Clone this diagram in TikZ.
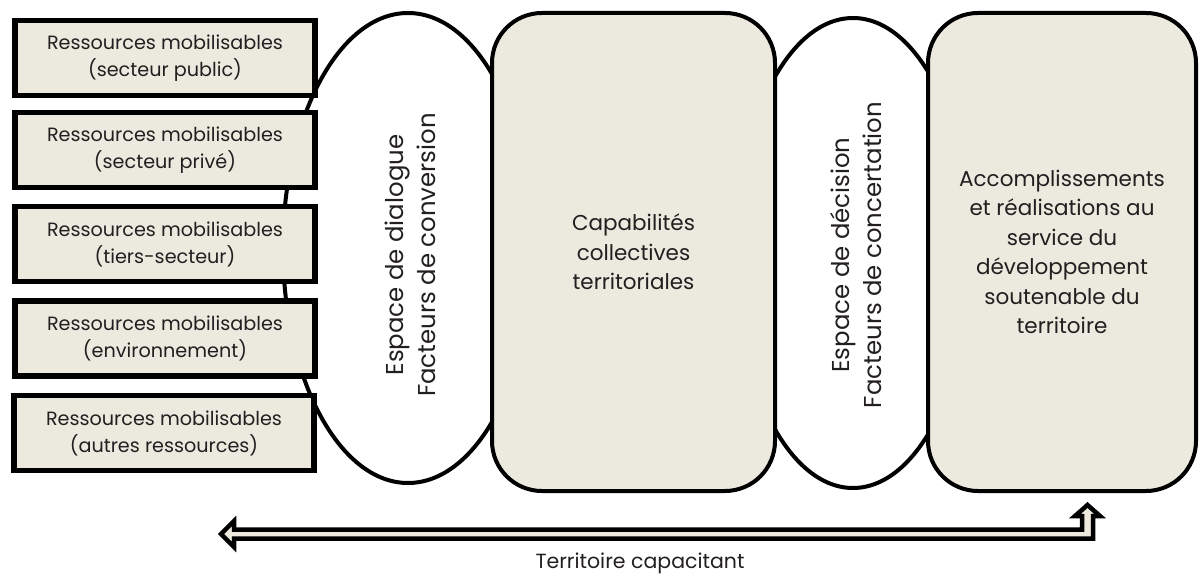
\documentclass[tikz,border=0pt]{standalone}
\usepackage{fontspec}
\setmainfont{Poppins}
\usetikzlibrary{shapes.geometric}
\definecolor{beige}{RGB}{236,233,223}
\definecolor{ink}{RGB}{35,31,32}
\tikzset{
  res/.style={draw=black, line width=5.5pt, fill=beige, minimum width=300pt, minimum height=75pt,
    inner sep=0pt, align=center, text=ink, font=\fontsize{19.2}{27}\selectfont},
  oval/.style={draw=black, line width=4pt, fill=white, ellipse, inner sep=0pt},
  bigbox/.style={draw=black, line width=4pt, fill=beige, rounded corners=50pt, minimum height=478pt,
    inner sep=0pt, align=center, text=ink, font=\fontsize{21.5}{29.5}\selectfont},
  vtext/.style={rotate=90, align=center, text=ink, font=\fontsize{24.4}{32}\selectfont},
  band/.style={draw=black, line width=4.5pt, fill=beige, line join=miter},
}
\begin{document}
\begin{tikzpicture}[x=1pt,y=-1pt]
\useasboundingbox (0,0) rectangle (1200,578);
% ovals (behind)
\node[oval, minimum width=250pt, minimum height=470pt] (o1) at (408,248) {};
\node[oval, minimum width=236pt, minimum height=470pt] (o2) at (853,253) {};
% big rounded boxes
\node[bigbox, minimum width=283pt] (cap) at (633.5,252) {Capabilités\\collectives\\territoriales};
\node[bigbox, minimum width=268pt] (acc) at (1062,252) {Accomplissements\\et réalisations au\\service du\\développement\\soutenable du\\territoire};
% oval texts
\node[vtext] (t1) at (410,255) {Espace de dialogue\\Facteurs de conversion};
\node[vtext] (t2) at (856,255) {Espace de décision\\Facteurs de concertation};
% resource boxes
\node[res] (r1) at (165,58) {Ressources mobilisables\\(secteur public)};
\node[res] (r2) at (165,150) {Ressources mobilisables\\(secteur privé)};
\node[res] (r3) at (165,244) {Ressources mobilisables\\(tiers-secteur)};
\node[res] (r4) at (165,338.5) {Ressources mobilisables\\(environnement)};
\node[res] (r5) at (164,433) {Ressources mobilisables\\(autres ressources)};
% bent double arrow
\coordinate (lt) at (221,534);
\coordinate (ut) at (1087.5,505);
\draw[band] (lt) -- (234,521) -- (234,529.5) -- (1082,529.5) -- (1082,516) -- (1075,516) -- (ut)
  -- (1100,516) -- (1093,516) -- (1093,538.5) -- (234,538.5) -- (234,547) -- cycle;
\node[text=ink, font=\fontsize{20.5}{22}\selectfont, anchor=base] (lab) at (640,568) {Territoire capacitant};
\end{tikzpicture}
\end{document}
